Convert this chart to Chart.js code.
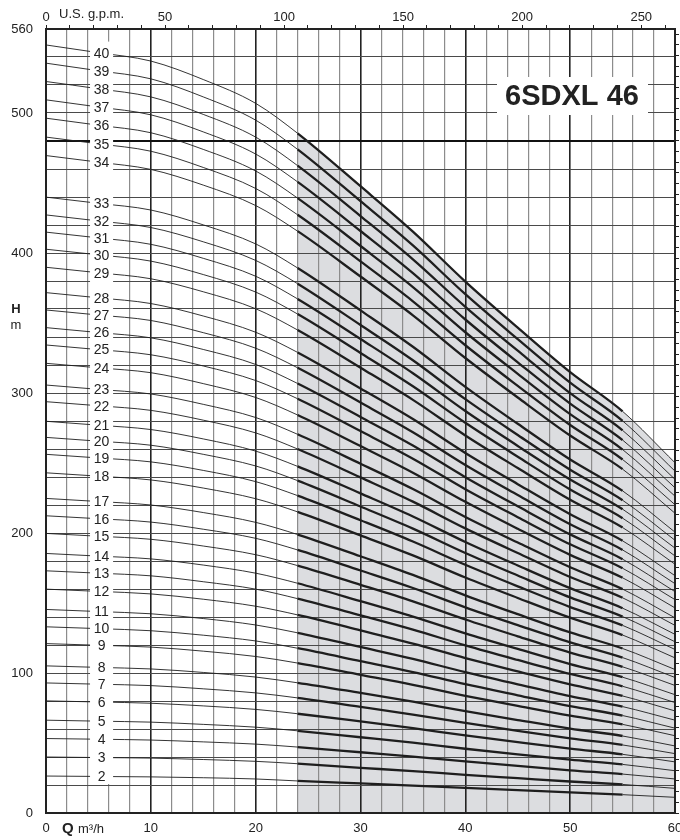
<!DOCTYPE html>
<html>
<head>
<meta charset="utf-8">
<title>6SDXL 46</title>
<script src="https://cdn.jsdelivr.net/npm/chart.js"></script>
<style>
  html, body { margin: 0; padding: 0; background: #fff; }
  #wrap { width: 680px; height: 840px; position: relative; }
</style>
</head>
<body>
<div id="wrap"><canvas id="pumpChart"></canvas></div>
<script>
const flowQ = [0, 5, 10, 15, 20, 24, 30, 35, 40, 45, 50, 55, 60];
const stageNumbers = [2, 3, 4, 5, 6, 7, 8, 9, 10, 11, 12, 13, 14, 15, 16, 17, 18, 19, 20, 21,
  22, 23, 24, 25, 26, 27, 28, 29, 30, 31, 32, 33, 34, 35, 36, 37, 38, 39, 40];
// head (m) for each stage, same order as stageNumbers
const headByStage = [
  [26.4, 26.1, 25.8, 25.2, 24.3, 22.9, 21.1, 19.6, 17.9, 16.3, 14.7, 13.1, 11.2],
  [40.0, 39.6, 39.2, 38.2, 36.9, 35.2, 32.3, 29.9, 27.3, 24.9, 22.5, 20.4, 17.6],
  [53.2, 52.7, 52.1, 50.8, 49.2, 47.1, 43.4, 40.3, 36.8, 33.6, 30.5, 27.8, 24.3],
  [66.3, 65.6, 64.9, 63.3, 61.3, 58.7, 54.1, 50.2, 45.9, 41.9, 38.1, 34.7, 30.2],
  [80.1, 79.3, 78.4, 76.5, 74.0, 70.9, 65.4, 60.6, 55.4, 50.6, 46.0, 41.9, 36.5],
  [92.9, 92.0, 91.0, 88.7, 85.8, 82.2, 75.8, 70.3, 64.3, 58.7, 53.3, 48.6, 42.4],
  [105.1, 104.0, 102.9, 100.4, 97.1, 93.0, 85.8, 79.6, 72.7, 66.4, 60.3, 55.0, 47.9],
  [121.0, 119.8, 118.5, 115.6, 111.8, 107.1, 98.7, 91.6, 83.7, 76.5, 69.5, 63.3, 55.2],
  [133.0, 131.7, 130.2, 127.0, 122.9, 117.7, 108.5, 100.7, 92.0, 84.1, 76.3, 69.6, 60.6],
  [145.4, 143.9, 142.3, 138.9, 134.3, 128.7, 118.6, 110.1, 100.6, 91.9, 83.5, 76.0, 66.3],
  [159.9, 158.3, 156.5, 152.7, 147.7, 141.5, 130.5, 121.0, 110.7, 101.1, 91.8, 83.6, 72.9],
  [173.0, 171.3, 169.4, 165.2, 159.9, 153.1, 141.2, 131.0, 119.7, 109.3, 99.3, 90.5, 78.9],
  [185.4, 183.5, 181.5, 177.1, 171.3, 164.1, 151.3, 140.3, 128.3, 117.2, 106.4, 97.0, 84.5],
  [199.7, 197.7, 195.5, 190.7, 184.5, 176.7, 163.0, 151.2, 138.2, 126.2, 114.6, 104.4, 91.1],
  [212.3, 210.2, 207.8, 202.7, 196.2, 187.9, 173.2, 160.7, 146.9, 134.2, 121.9, 111.0, 96.8],
  [224.7, 222.5, 220.0, 214.6, 207.6, 198.9, 183.4, 170.1, 155.5, 142.0, 129.0, 117.5, 102.5],
  [243.0, 240.6, 237.9, 232.1, 224.5, 215.1, 198.3, 184.0, 168.2, 153.6, 139.5, 127.1, 110.8],
  [256.2, 253.6, 250.8, 244.7, 236.7, 226.7, 209.1, 193.9, 177.3, 161.9, 147.1, 134.0, 116.8],
  [268.3, 265.6, 262.7, 256.2, 247.9, 237.4, 218.9, 203.1, 185.7, 169.6, 154.0, 140.3, 122.3],
  [279.8, 277.0, 273.9, 267.2, 258.5, 247.6, 228.3, 211.8, 193.6, 176.8, 160.6, 146.3, 127.6],
  [293.8, 290.9, 287.6, 280.6, 271.5, 260.0, 239.7, 222.4, 203.3, 185.7, 168.6, 153.7, 134.0],
  [305.7, 302.6, 299.3, 291.9, 282.5, 270.5, 249.5, 231.4, 211.5, 193.2, 175.5, 159.9, 139.4],
  [321.2, 318.0, 314.5, 306.7, 296.8, 284.3, 262.1, 243.1, 222.3, 203.0, 184.4, 168.0, 146.5],
  [334.3, 331.0, 327.3, 319.3, 308.9, 295.9, 272.8, 253.1, 231.3, 211.3, 191.9, 174.8, 152.4],
  [346.7, 343.2, 339.4, 331.1, 320.4, 306.8, 282.9, 262.5, 239.9, 219.1, 199.0, 181.3, 158.1],
  [359.3, 355.7, 351.8, 343.1, 332.0, 318.0, 293.2, 272.0, 248.6, 227.1, 206.2, 187.9, 163.8],
  [371.7, 368.0, 363.9, 355.0, 343.4, 329.0, 303.3, 281.4, 257.2, 234.9, 213.4, 194.4, 169.5],
  [389.8, 385.9, 381.6, 372.3, 360.2, 345.0, 318.1, 295.1, 269.7, 246.4, 223.7, 203.9, 177.7],
  [402.7, 398.7, 394.2, 384.6, 372.1, 356.4, 328.6, 304.8, 278.7, 254.5, 231.1, 210.6, 183.6],
  [414.9, 410.8, 406.2, 396.2, 383.4, 367.2, 338.6, 314.1, 287.1, 262.2, 238.2, 217.0, 189.2],
  [427.2, 422.9, 418.2, 408.0, 394.7, 378.1, 348.6, 323.4, 295.6, 270.0, 245.2, 223.4, 194.8],
  [439.9, 435.5, 430.7, 420.1, 406.5, 389.3, 359.0, 333.0, 304.4, 278.0, 252.5, 230.1, 200.6],
  [469.6, 464.9, 459.7, 448.5, 433.9, 415.6, 383.2, 355.5, 325.0, 296.8, 269.6, 245.6, 214.1],
  [482.8, 478.0, 472.7, 461.1, 446.1, 427.3, 394.0, 365.5, 334.1, 305.1, 277.1, 252.5, 220.2],
  [496.3, 491.3, 485.9, 474.0, 458.6, 439.2, 405.0, 375.7, 343.4, 313.7, 284.9, 259.6, 226.3],
  [509.4, 504.3, 498.7, 486.5, 470.7, 450.8, 415.7, 385.6, 352.5, 321.9, 292.4, 266.4, 232.3],
  [522.5, 517.3, 511.5, 499.0, 482.8, 462.4, 426.4, 395.5, 361.6, 330.2, 299.9, 273.3, 238.3],
  [535.6, 530.2, 524.4, 511.5, 494.9, 474.0, 437.0, 405.4, 370.6, 338.5, 307.4, 280.1, 244.2],
  [548.6, 543.1, 537.1, 523.9, 506.9, 485.5, 447.7, 415.3, 379.6, 346.7, 314.9, 286.9, 250.2]
];
const flowTickLabels = [0, 10, 20, 30, 40, 50, 60];
const headTickLabels = [0, 100, 200, 300, 400, 500, 560];
const gpmTickLabels = [0, 50, 100, 150, 200, 250];

// working range of the pump (bold part of the curves, grey area)
const workFrom = 24;
const workTo = 55;

const FONT = '"Liberation Sans", Arial, Helvetica, sans-serif';
const INK = '#1e1e1e';

function toPoints(qs, hs) {
  return qs.map((q, i) => ({ x: q, y: hs[i] }));
}

var datasets = [];

// grey field under the top curve, from the start of the working range
var topHeads = headByStage[headByStage.length - 1];
var startIdx = flowQ.indexOf(workFrom);
datasets.push({
  label: 'range',
  data: toPoints(flowQ.slice(startIdx), topHeads.slice(startIdx)),
  borderWidth: 0,
  borderColor: 'rgba(0,0,0,0)',
  backgroundColor: '#dcdde0',
  fill: 'origin',
  pointRadius: 0,
  cubicInterpolationMode: 'monotone'
});

stageNumbers.forEach((n, i) => {
  datasets.push({
    label: String(n),
    data: toPoints(flowQ, headByStage[i]),
    borderColor: INK,
    borderWidth: 0.9,
    fill: false,
    pointRadius: 0,
    cubicInterpolationMode: 'monotone',
    segment: {
      borderWidth: ctx => (ctx.p0.parsed.x >= workFrom && ctx.p1.parsed.x <= workTo) ? 2.3 : 0.9
    }
  });
});

function zeroPad(s) {
  s.paddingLeft = 0; s.paddingRight = 0; s.paddingTop = 0; s.paddingBottom = 0;
}

// white strip with the stage numbers, title box, and axis captions
const decorPlugin = {
  id: 'decor',
  afterDatasetsDraw(chart) {
    const c = chart.ctx;
    const xs = chart.scales.x, ys = chart.scales.y;
    c.save();
    c.fillStyle = '#fff';
    var x1 = xs.getPixelForValue(4.2), x2 = xs.getPixelForValue(6.4);
    var yT = ys.getPixelForValue(551), yB = ys.getPixelForValue(20) - 1;
    c.fillRect(x1, yT, x2 - x1, yB - yT);

    c.fillStyle = '#222';
    c.font = '14px ' + FONT;
    c.textAlign = 'center';
    c.textBaseline = 'middle';
    var lx = xs.getPixelForValue(5.3);
    stageNumbers.forEach((n, i) => {
      c.fillText(String(n), lx, ys.getPixelForValue(headByStage[i][1]) + 1);
    });

    // model name box
    c.fillStyle = '#fff';
    c.fillRect(497, 77, 151, 38);
    c.fillStyle = '#222';
    c.font = 'bold 29px ' + FONT;
    c.fillText('6SDXL 46', 572, 97);
    c.restore();
  },
  afterDraw(chart) {
    const c = chart.ctx;
    c.save();
    c.fillStyle = '#222';
    c.textBaseline = 'middle';
    c.textAlign = 'left';
    c.font = '13px ' + FONT;
    c.fillText('U.S. g.p.m.', 59, 14);
    c.font = 'bold 15px ' + FONT;
    c.fillText('Q', 62, 829);
    c.font = '13px ' + FONT;
    c.fillText('m\u00B3/h', 78, 829);
    c.textAlign = 'center';
    c.font = 'bold 13px ' + FONT;
    c.fillText('H', 16, 309);
    c.font = '13px ' + FONT;
    c.fillText('m', 16, 325);
    c.restore();
  }
};

new Chart(document.getElementById('pumpChart'), {
  type: 'line',
  data: { datasets: datasets },
  plugins: [decorPlugin],
  options: {
    responsive: true,
    maintainAspectRatio: false,
    animation: false,
    layout: { padding: 0 },
    plugins: {
      legend: { display: false },
      tooltip: { enabled: false },
      filler: { drawTime: 'beforeDraw' }
    },
    scales: {
      x: {
        type: 'linear', position: 'bottom', min: 0, max: 60,
        ticks: {
          stepSize: 2, autoSkip: false, maxRotation: 0, padding: 8,
          color: '#222', font: { size: 13, family: FONT },
          callback: v => flowTickLabels.includes(v) ? v : ''
        },
        grid: {
          tickLength: 0,
          color: ctx => (ctx.tick && ctx.tick.value % 10 === 0) ? '#222' : '#8c8c8c',
          lineWidth: ctx => (ctx.tick && ctx.tick.value % 10 === 0) ? 1.6 : 1.2
        },
        border: { color: '#222', width: 2 },
        afterFit: s => { s.height = 27; zeroPad(s); }
      },
      gpm: {
        type: 'linear', position: 'top', min: 0, max: 60 * 4.40287,
        ticks: {
          stepSize: 10, autoSkip: false, maxRotation: 0, padding: 0, includeBounds: false,
          color: '#222', font: { size: 13, family: FONT },
          callback: v => gpmTickLabels.includes(v) ? v : ''
        },
        grid: { drawOnChartArea: false, tickLength: 4, color: '#222', lineWidth: 1 },
        border: { color: '#222', width: 2 },
        afterFit: s => { s.height = 29; zeroPad(s); }
      },
      y: {
        type: 'linear', position: 'left', min: 0, max: 560,
        ticks: {
          stepSize: 20, autoSkip: false, padding: 13,
          color: '#222', font: { size: 13, family: FONT },
          callback: v => headTickLabels.includes(v) ? v : ''
        },
        grid: {
          tickLength: 0,
          color: ctx => (ctx.tick && ctx.tick.value === 480) ? '#111' : '#4a4a4a',
          lineWidth: ctx => (ctx.tick && ctx.tick.value === 480) ? 2 : 1
        },
        border: { color: '#222', width: 2 },
        afterFit: s => { s.width = 46; zeroPad(s); }
      },
      feet: {
        type: 'linear', position: 'right', min: 0, max: 560 / 0.3048,
        ticks: { stepSize: 25, display: false, includeBounds: false },
        grid: { drawOnChartArea: false, tickLength: 4, color: '#222', lineWidth: 1 },
        border: { color: '#222', width: 2 },
        afterFit: s => { s.width = 5; zeroPad(s); }
      }
    }
  }
});
</script>
</body>
</html>
